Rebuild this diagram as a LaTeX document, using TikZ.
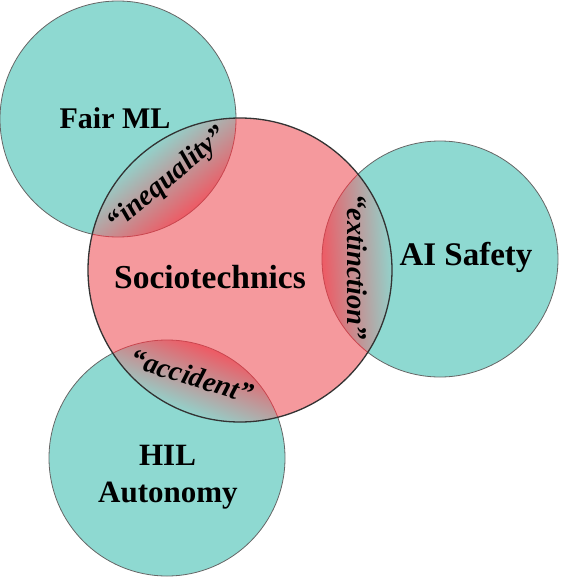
\documentclass[tikz,border=0pt]{standalone}
\usepackage{fontspec}
\setmainfont{Liberation Serif}
\definecolor{tealfill}{HTML}{8ED9D1}
\definecolor{redfill}{HTML}{F5999D}
\definecolor{lensred}{HTML}{EE5A64}
\definecolor{lensgray}{HTML}{B3A8AB}
\definecolor{lensteal}{HTML}{92D2CB}
\definecolor{smalledge}{HTML}{666666}
\definecolor{bigedge}{HTML}{333333}
\definecolor{inneredge}{HTML}{C9464F}
\tikzset{
  field/.style={fill=tealfill, draw=smalledge, line width=0.8pt},
  bigfield/.style={fill=redfill},
  maintext/.style={font=\fontsize{#1}{37}\selectfont\bfseries, anchor=base, inner sep=0pt, align=center},
  maintext/.default=31,
  lenstext/.style={font=\fontsize{28.5}{30}\selectfont\bfseries\itshape, inner sep=0pt},
  lensshade/.style={left color=lensred, middle color=lensgray, right color=lensteal}
}
\begin{document}
\begin{tikzpicture}[x=1pt,y=1pt]
\useasboundingbox (0,0) rectangle (560,-578);
\coordinate (S) at (240,-270);
\coordinate (F) at (118,-119);
\coordinate (A) at (440,-259);
\coordinate (H) at (167,-458);
% small circles
\path[field] (F) circle[radius=118];
\path[field] (A) circle[radius=118];
\path[field] (H) circle[radius=118];
% big circle fill
\path[bigfield] (S) circle[radius=152];
% lenses
\begin{scope}
  \clip (S) circle[radius=152];
  \clip (F) circle[radius=118];
  \begin{scope}[transform canvas={shift={(240,-270)}, rotate=128.9}]
    \shade[lensshade] (76,-160) rectangle (152,160);
  \end{scope}
\end{scope}
\begin{scope}
  \clip (S) circle[radius=152];
  \clip (A) circle[radius=118];
  \begin{scope}[transform canvas={shift={(240,-270)}, rotate=3.15}]
    \shade[lensshade] (82,-160) rectangle (152,160);
  \end{scope}
\end{scope}
\begin{scope}
  \clip (S) circle[radius=152];
  \clip (H) circle[radius=118];
  \begin{scope}[transform canvas={shift={(240,-270)}, rotate=-111.2}]
    \shade[lensshade] (84,-160) rectangle (152,160);
  \end{scope}
\end{scope}
% small circle arcs inside big circle
\begin{scope}
  \clip (S) circle[radius=152];
  \draw[inneredge, line width=0.8pt] (F) circle[radius=118];
  \draw[inneredge, line width=0.8pt] (A) circle[radius=118];
  \draw[inneredge, line width=0.8pt] (H) circle[radius=118];
\end{scope}
% big circle outline
\draw[bigedge, line width=1.3pt] (S) circle[radius=152];
% labels
\node[maintext=30] (tF) at (115,-128) {Fair ML};
\node[maintext=33.5] (tS) at (210,-288) {Sociotechnics};
\node[maintext=33] (tA) at (466,-265) {AI Safety};
\node[maintext=31] (tH1) at (167.5,-465) {HIL};
\node[maintext=31] (tH2) at (168,-502) {Autonomy};
\node[lenstext, rotate=40] (lF) at (168,-180) {“inequality”};
\node[lenstext, rotate=-90] (lA) at (357,-267) {“extinction”};
\node[lenstext, rotate=-17] (lH) at (192,-376) {“accident”};
\end{tikzpicture}
\end{document}
